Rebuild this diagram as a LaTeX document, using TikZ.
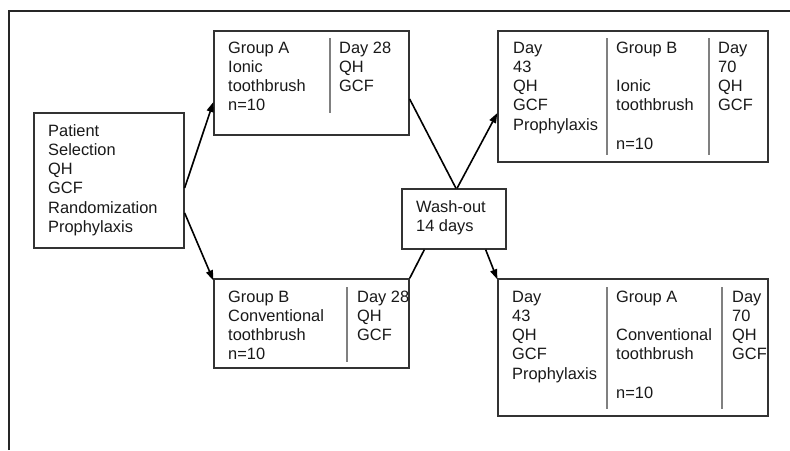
\documentclass[tikz,border=0pt]{standalone}
\usepackage{fontspec}
\setmainfont{Liberation Sans}
\usetikzlibrary{arrows.meta}
\newcommand\dgmfont{\fontsize{16.4pt}{19.2pt}\selectfont}
\newcommand\tl{\rule{0pt}{13pt}}
\begin{document}
\begin{tikzpicture}[x=1pt,y=-1pt,
  box/.style={draw=black!80,line width=1.3pt,rectangle,inner sep=0,fill=white},
  txt/.style={anchor=north west,inner sep=0,align=left,font=\dgmfont,text=black!90},
  divider/.style={draw=black!50,line width=1.2pt},
  conn/.style={draw=black,line width=1.6pt},
  arr/.style={conn,-{Triangle[length=10pt,width=7pt]}},
  frame/.style={draw=black!85,line width=2pt}]
\useasboundingbox (0,0) rectangle (790,450);
\fill[white] (0,0) rectangle (790,450);
% outer frame (top and left only)
\draw[frame] (9,450) -- (9,11) -- (790,11);

% boxes
\node[box,minimum width=150pt,minimum height=135pt] (patient) at (109,180.5) {};
\node[box,minimum width=195pt,minimum height=104pt] (grpA) at (311.5,83) {};
\node[box,minimum width=270pt,minimum height=131pt] (topR) at (633,96.5) {};
\node[box,minimum width=104pt,minimum height=60pt] (wash) at (454,219) {};
\node[box,minimum width=195pt,minimum height=89pt] (grpB) at (311.5,323.5) {};
\node[box,minimum width=270pt,minimum height=137pt] (botR) at (633,347.5) {};

% dividers
\draw[divider] (330,38) -- (330,113);
\draw[divider] (607,38) -- (607,155);
\draw[divider] (709,38) -- (709,155);
\draw[divider] (347,287) -- (347,362);
\draw[divider] (607,287) -- (607,409);
\draw[divider] (722,287) -- (722,409);

% texts (first baseline = y + 13)
\node[txt] (tPatient) at (48,123) {\tl Patient\\Selection\\QH\\GCF\\Randomization\\Prophylaxis};
\node[txt] (tA1) at (228,40) {\tl Group A\\Ionic\\toothbrush\\n=10};
\node[txt] (tA2) at (339,40) {\tl Day 28\\QH\\GCF};
\node[txt] (tR1) at (513,40) {\tl Day\\43\\QH\\GCF\\Prophylaxis};
\node[txt] (tR2) at (616,40) {\tl Group B\\ \\Ionic\\toothbrush\\ \\n=10};
\node[txt] (tR3) at (718,40) {\tl Day\\70\\QH\\GCF};
\node[txt] (tW) at (416,199) {\tl Wash-out\\14 days};
\node[txt] (tB1) at (228,289) {\tl Group B\\Conventional\\toothbrush\\n=10};
\node[txt] (tB2) at (357,289) {\tl Day 28\\QH\\GCF};
\node[txt] (tS1) at (512,289) {\tl Day\\43\\QH\\GCF\\Prophylaxis};
\node[txt] (tS2) at (616,289) {\tl Group A\\ \\Conventional\\toothbrush\\ \\n=10};
\node[txt] (tS3) at (732,289) {\tl Day\\70\\QH\\GCF};

% connectors
\draw[arr] ([yshift=-7.5pt]patient.east) -- ([yshift=-19pt]grpA.west);
\draw[arr] ([yshift=-32.5pt]patient.east) -- ([yshift=-2pt]grpB.north west);
\draw[conn] ([yshift=-16pt]grpA.east) -- ([xshift=2pt]wash.north);
\draw[arr] ([xshift=3pt]wash.north) -- ([yshift=-16.5pt]topR.west);
\draw[conn] (grpB.north east) -- ([xshift=23pt]wash.south west);
\draw[arr] ([xshift=-21pt]wash.south east) -- ([yshift=-1pt]botR.north west);
\end{tikzpicture}
\end{document}
